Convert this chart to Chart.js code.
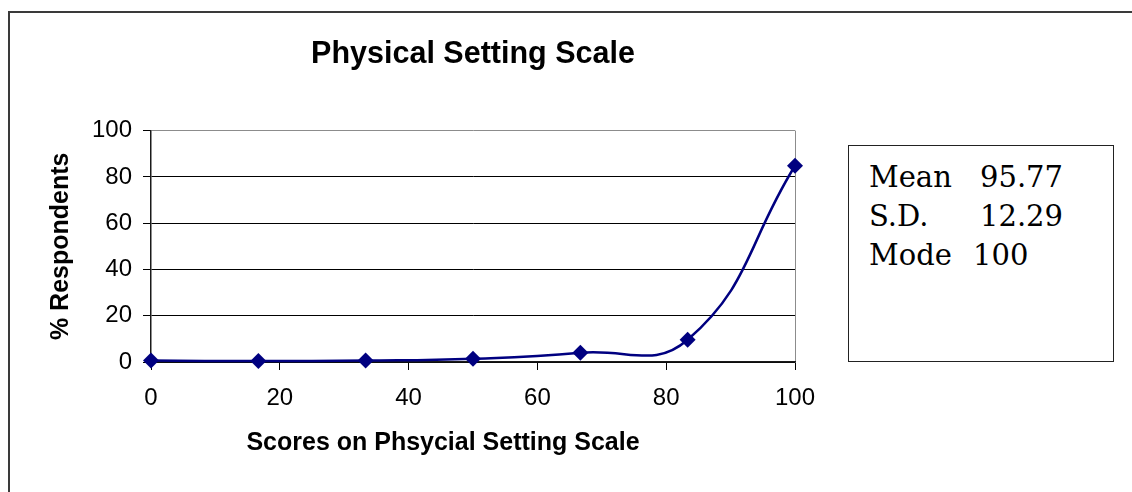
<!DOCTYPE html>
<html>
<head>
<meta charset="utf-8">
<script src="https://cdn.jsdelivr.net/npm/chart.js@4/dist/chart.umd.min.js"></script>
<style>
  html, body { margin: 0; padding: 0; background: #fff; }
  #wrap { position: relative; width: 1132px; height: 492px; overflow: hidden; background: #fff; }
  #frame { position: absolute; left: 8px; top: 11px; width: 1200px; height: 600px;
           border-top: 2px solid #3a3a3a; border-left: 2px solid #3a3a3a; box-sizing: border-box; }
  canvas { position: absolute; left: 0; top: 0; }
  #stats { position: absolute; left: 848px; top: 145px; width: 266px; height: 217px;
           border: 1.5px solid #222; box-sizing: border-box; background: #fff;
           font-family: "DejaVu Serif", serif; font-size: 29px; color: #000; }
  #stats span { position: absolute; line-height: 29px; white-space: nowrap; }
</style>
</head>
<body>
<div id="wrap">
  <div id="frame"></div>
  <canvas id="c" width="1132" height="492"></canvas>
  <div id="stats"></div>
</div>
<script>
// Score levels on the scale and the share of respondents at each level
const scores = [0, 16.67, 33.33, 50, 66.67, 83.33, 100];
const respondents = [0.6, 0.4, 0.6, 1.4, 4.0, 9.6, 84.8];
const xTicks = [0, 20, 40, 60, 80, 100];
const yTicks = [0, 20, 40, 60, 80, 100];

// Summary statistics shown beside the chart
const statLabels = ['Mean', 'S.D.', 'Mode'];
const statValues = ['95.77', '12.29', '100'];

const statsBox = document.getElementById('stats');
const valueLeft = [131, 131, 124];
statLabels.forEach((lab, i) => {
  const top = 17 + i * 39;
  const a = document.createElement('span');
  a.textContent = lab; a.style.left = '20px'; a.style.top = top + 'px';
  const b = document.createElement('span');
  b.textContent = statValues[i]; b.style.left = valueLeft[i] + 'px'; b.style.top = top + 'px';
  statsBox.appendChild(a); statsBox.appendChild(b);
});

const font = 'Liberation Sans, Arial, sans-serif';
const frameGray = '#8c8c8c';
const xTitle = 'Scores on Phsycial Setting Scale';

// Axis title under the x axis, centred a little left of the plot centre
const xTitlePlugin = {
  id: 'xTitle',
  afterDraw(chart) {
    const ctx = chart.ctx;
    ctx.save();
    ctx.font = 'bold 25px ' + font;
    ctx.fillStyle = '#000';
    ctx.textAlign = 'center';
    ctx.textBaseline = 'middle';
    ctx.fillText(xTitle, 443, 443);
    ctx.restore();
  }
};

new Chart(document.getElementById('c'), {
  type: 'line',
  data: {
    datasets: [{
      data: scores.map((s, i) => ({ x: s, y: respondents[i] })),
      borderColor: '#000080',
      backgroundColor: '#000080',
      borderWidth: 2.5,
      tension: 0.45,
      capBezierPoints: false,
      pointStyle: 'rectRot',
      pointRadius: 8,
      pointHoverRadius: 8,
      pointBorderWidth: 0,
      clip: false
    }]
  },
  plugins: [xTitlePlugin],
  options: {
    responsive: false,
    animation: false,
    events: [],
    layout: { padding: { left: 42, right: 337, top: 12, bottom: 30 } },
    plugins: {
      legend: { display: false },
      tooltip: { enabled: false },
      title: {
        display: true,
        fullSize: false,
        text: 'Physical Setting Scale',
        color: '#000',
        font: { family: font, size: 30.5, weight: 'bold', lineHeight: 1.2 },
        padding: { top: 24, bottom: 58 }
      }
    },
    scales: {
      x: {
        type: 'linear',
        min: 0, max: 100,
        afterFit: s => { s.height = 100; },
        afterBuildTicks: s => { s.ticks = xTicks.map(v => ({ value: v })); },
        ticks: { color: '#000', font: { family: font, size: 24 }, padding: 14, maxRotation: 0 },
        grid: {
          color: c => (c.tick && c.tick.value === 100) ? frameGray : 'rgba(0,0,0,0)',
          tickColor: '#000',
          tickLength: 8,
          lineWidth: 1
        },
        border: { color: '#1a1a1a', width: 1.5 }
      },
      y: {
        min: 0, max: 100,
        afterFit: s => { s.width = 109; },
        afterBuildTicks: s => { s.ticks = yTicks.map(v => ({ value: v })); },
        ticks: { color: '#000', font: { family: font, size: 24 }, padding: 11 },
        grid: {
          color: c => (c.tick && c.tick.value === 100) ? frameGray : '#000',
          tickColor: '#000',
          tickLength: 8,
          lineWidth: 1
        },
        border: { color: '#1a1a1a', width: 1.5 },
        title: {
          display: true,
          text: '% Respondents',
          color: '#000',
          font: { family: font, size: 25, weight: 'bold', lineHeight: 1.2 },
          padding: { top: 4, bottom: 4 }
        }
      }
    }
  }
});
</script>
</body>
</html>
